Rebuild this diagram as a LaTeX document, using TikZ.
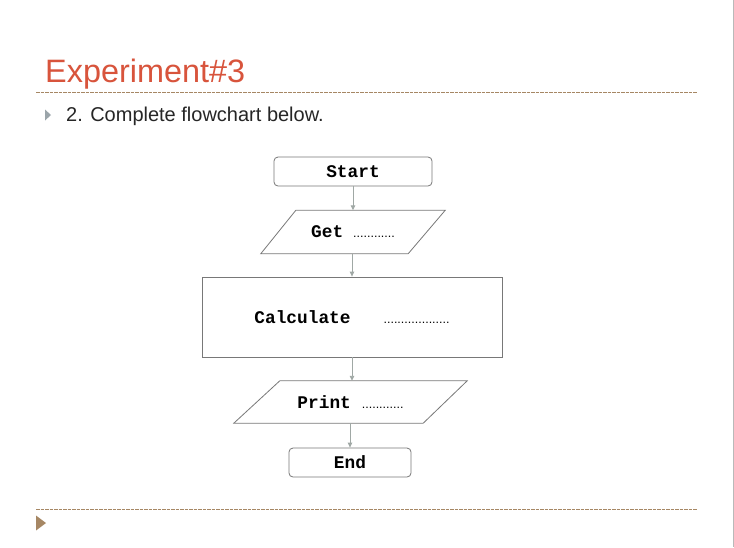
\documentclass[tikz,border=0pt]{standalone}
\usepackage{fontspec}
\setmainfont{Liberation Sans}
\newfontfamily\monob{Liberation Mono}[BoldFont={Liberation Mono Bold}]
\usetikzlibrary{calc,arrows.meta}
\definecolor{titlered}{RGB}{216,84,60}
\definecolor{tan}{RGB}{166,135,100}
\definecolor{bulletgray}{RGB}{155,165,170}
\definecolor{conngray}{RGB}{160,168,165}
\definecolor{shapegray}{RGB}{120,120,120}
\newcommand{\mtxt}[1]{{\monob\bfseries\fontsize{17.8}{20}\selectfont #1}}
\newcommand{\dtxt}[1]{{\fontsize{12.5}{14}\selectfont #1}}
\begin{document}
\begin{tikzpicture}[x=1pt,y=-1pt,
  shapeline/.style={draw=shapegray, line width=0.8pt},
  termbox/.style={shapeline, rounded corners=4pt, inner sep=0pt},
  procbox/.style={shapeline, inner sep=0pt},
  iobox/.style={inner sep=0pt},
  conn/.style={draw=conngray, line width=0.9pt, -{Triangle[length=5pt,width=4.5pt]}},
  rule/.style={draw=tan, line width=0.8pt, dash pattern=on 3.5pt off 1pt}]
\useasboundingbox (0,0) rectangle (734,547);
\fill[white] (0,0) rectangle (734,547);
\draw[gray!55, line width=1pt] (733,0) -- (733,547);
% title
\node[anchor=base west, inner sep=0pt, text=titlered, font=\fontsize{32.4}{38}\selectfont] (title) at (45,82) {Experiment\#3};
\draw[rule] (36,92) -- (697,92);
\fill[bulletgray] (45,109.5) -- (51,115) -- (45,120.5) -- cycle;
\node[anchor=base west, inner sep=0pt, text=black!85, font=\fontsize{20}{23}\selectfont] (sub) at (66,121) {2. Complete flowchart below.};
% flowchart
\node[termbox, minimum width=158pt, minimum height=29pt] (start) at (353,171.5) {\mtxt{Start}};
\node[iobox, minimum width=184pt, minimum height=43pt] (get) at (353,232) {\mtxt{Get}\hspace{10pt}\dtxt{............}};
\draw[shapeline] ($(get.north west)+(35,0)$) -- (get.north east) -- ($(get.south east)+(-37,0)$) -- (get.south west) -- cycle;
\node[procbox, minimum width=300pt, minimum height=80pt] (calc) at (352,317) {\mtxt{Calculate}\hspace{33pt}\dtxt{...................}};
\node[iobox, minimum width=233pt, minimum height=42pt] (print) at (350.5,402) {\mtxt{Print}\hspace{11pt}\dtxt{............}};
\draw[shapeline] ($(print.north west)+(46,0)$) -- (print.north east) -- ($(print.south east)+(-44,0)$) -- (print.south west) -- cycle;
\node[termbox, minimum width=122pt, minimum height=29pt] (end) at (350,462.5) {\mtxt{End}};
\draw[conn] (start.south) -- (start.south |- get.north);
\draw[conn] (get.south -| calc.north) -- (calc.north);
\draw[conn] (calc.south) -- (calc.south |- print.north);
\draw[conn] (print.south -| end.north) -- (end.north);
% bottom
\draw[rule] (36,509) -- (697,509);
\fill[tan] (36,515.5) -- (46,523) -- (36,530.5) -- cycle;
\end{tikzpicture}
\end{document}
